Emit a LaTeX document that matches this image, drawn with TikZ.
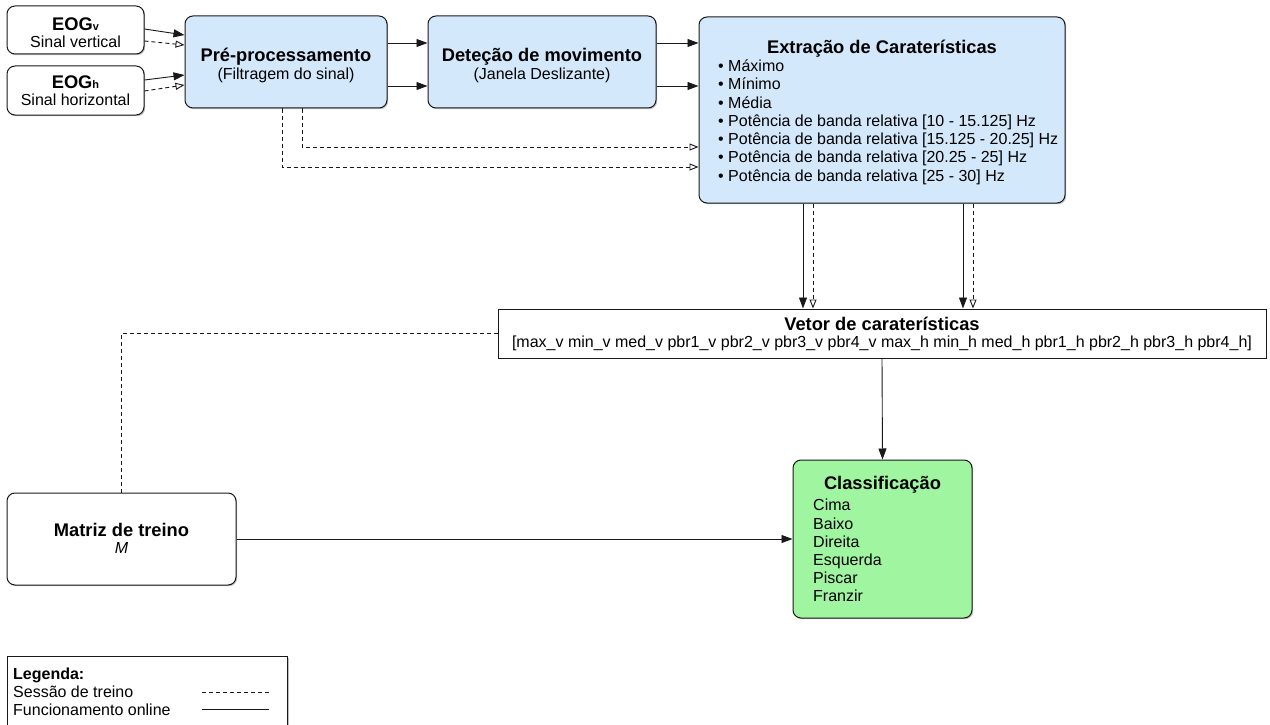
\documentclass[tikz,border=0pt]{standalone}
\usepackage{fontspec}
\setmainfont{Liberation Sans}
\usetikzlibrary{arrows.meta,shadows}

\definecolor{procblue}{RGB}{212,232,251}
\definecolor{classgreen}{RGB}{160,245,160}
\definecolor{edgegray}{RGB}{25,25,25}

\tikzset{
  procbox/.style={draw=edgegray, line width=1pt, inner sep=0pt,
    drop shadow={shadow xshift=1.2pt, shadow yshift=-1.2pt, opacity=0.25, fill=black}},
  roundbox/.style={procbox, rounded corners=8pt},
  bluebox/.style={roundbox, fill=procblue},
  greenbox/.style={roundbox, fill=classgreen},
  whitebox/.style={roundbox, fill=white},
  plainbox/.style={procbox, fill=white},
  txt/.style={inner sep=0pt, font=\fontsize{16}{18.2}\selectfont},
  ttl/.style={inner sep=0pt, font=\bfseries\fontsize{18.3}{20}\selectfont},
  flow/.style={draw=edgegray, line width=0.9pt, -{Triangle[length=11pt,width=8pt]}},
  train/.style={draw=edgegray, line width=0.9pt, dash pattern=on 4pt off 3pt,
    -{Triangle[open,length=9pt,width=7pt]}},
  trainline/.style={draw=edgegray, line width=0.9pt, dash pattern=on 4pt off 3pt},
}

\begin{document}
\begin{tikzpicture}[x=1pt,y=-1pt]
\useasboundingbox (0,0) rectangle (1270,725);
\clip (0,0) rectangle (1270,725);

% --- input signals ---
\node[whitebox, minimum width=137pt, minimum height=48pt] (eogv) at (75.5,30) {};
\node[ttl, anchor=base] (eogvT) at (75.5,30.5) {EOG{\fontsize{11}{11}\selectfont v}};
\node[txt, anchor=base] (eogvS) at (75.5,47.8) {Sinal vertical};

\node[whitebox, minimum width=137pt, minimum height=49pt] (eogh) at (75.5,90.5) {};
\node[ttl, anchor=base] (eoghT) at (75.5,88.5) {EOG{\fontsize{11}{11}\selectfont h}};
\node[txt, anchor=base] (eoghS) at (75.5,105.8) {Sinal horizontal};

% --- processing chain ---
\node[bluebox, minimum width=202pt, minimum height=92pt] (pre) at (286,62) {};
\node[ttl, anchor=base] (preT) at (286,61.5) {Pré-processamento};
\node[txt, anchor=base] (preS) at (286,79.8) {(Filtragem do sinal)};

\node[bluebox, minimum width=228pt, minimum height=92pt] (det) at (542,62) {};
\node[ttl, anchor=base] (detT) at (542,61.5) {Deteção de movimento};
\node[txt, anchor=base] (detS) at (542,79.8) {(Janela Deslizante)};

\node[bluebox, minimum width=366pt, minimum height=186pt] (ext) at (882,110) {};
\node[ttl, anchor=base] (extT) at (882,53.5) {Extração de Caraterísticas};
\foreach \feat [count=\i] in {Máximo, Mínimo, Média,
    {Potência de banda relativa [10 - 15.125] Hz},
    {Potência de banda relativa [15.125 - 20.25] Hz},
    {Potência de banda relativa [20.25 - 25] Hz},
    {Potência de banda relativa [25 - 30] Hz}}
  \node[txt, anchor=base west] (feat\i) at (718,{53.6+18.2*\i}) {• \feat};

% --- feature vector ---
\node[plainbox, minimum width=768pt, minimum height=49pt] (vetor) at (882,333.5) {};
\node[ttl, anchor=base] (vetorT) at (882,330.5) {Vetor de caraterísticas};
\node[txt, anchor=base] (vetorS) at (882,347.8)
  {[max\_v min\_v med\_v pbr1\_v pbr2\_v pbr3\_v pbr4\_v max\_h min\_h med\_h pbr1\_h pbr2\_h pbr3\_h pbr4\_h]};

% --- classifier and training matrix ---
\node[greenbox, minimum width=179pt, minimum height=158pt] (class) at (882.5,539) {};
\node[ttl, anchor=base] (classT) at (882.5,489.5) {Classificação};
\foreach \lbl [count=\i] in {Cima, Baixo, Direita, Esquerda, Piscar, Franzir}
  \node[txt, anchor=base west] (cls\i) at (813,{492.6+18.2*\i}) {\lbl};

\node[whitebox, minimum width=229pt, minimum height=92pt] (matriz) at (121.5,539) {};
\node[ttl, anchor=base] (matrizT) at (121.5,536.5) {Matriz de treino};
\node[txt, anchor=base] (matrizS) at (121.5,553.8) {\itshape M};

% --- connectors: online operation ---
\draw[flow] ([yshift=1pt]eogv.east) -- ([yshift=27pt]pre.west);
\draw[flow] ([yshift=10.5pt]eogh.east) -- ([yshift=-13pt]pre.west);
\draw[flow] ([yshift=19pt]pre.east) -- ([yshift=19pt]det.west);
\draw[flow] ([yshift=-24pt]pre.east) -- ([yshift=-24pt]det.west);
\draw[flow] ([yshift=19pt]det.east) -- ([yshift=67pt]ext.west);
\draw[flow] ([yshift=-24pt]det.east) -- ([yshift=24pt]ext.west);
\draw[flow] ([xshift=-79pt]ext.south) -- ([xshift=-79pt]vetor.north);
\draw[flow] ([xshift=81pt]ext.south) -- ([xshift=81pt]vetor.north);
\draw[flow] (vetor.south) -- (class.north);
\draw[flow] (matriz.east) -- (class.west);

% --- connectors: training session ---
\draw[train] ([yshift=-11pt]eogv.east) -- ([yshift=17pt]pre.west);
\draw[train] ([yshift=-0.5pt]eogh.east) -- ([yshift=-23pt]pre.west);
\draw[train] ([xshift=16pt]pre.south) |- ([yshift=-37pt]ext.west);
\draw[train] ([xshift=-4pt]pre.south) |- ([yshift=-57pt]ext.west);
\draw[train] ([xshift=-69pt]ext.south) -- ([xshift=-69pt]vetor.north);
\draw[train] ([xshift=91pt]ext.south) -- ([xshift=91pt]vetor.north);
\draw[trainline] (matriz.north) |- ([yshift=0.5pt]vetor.west);

% --- legend ---
\node[procbox, fill=white, minimum width=280pt, minimum height=100pt, anchor=north west] (legend) at (7,656) {};
\node[txt, anchor=base west, font=\bfseries\fontsize{16}{18.2}\selectfont] (legT) at (13,679) {Legenda:};
\node[txt, anchor=base west] (legA) at (13,697) {Sessão de treino};
\node[txt, anchor=base west] (legB) at (13,715) {Funcionamento online};
\coordinate (dashA) at (202,692);
\coordinate (dashB) at (269,692);
\coordinate (solidA) at (202,709);
\coordinate (solidB) at (269,709);
\draw[trainline] (dashA) -- (dashB);
\draw[draw=edgegray, line width=0.9pt] (solidA) -- (solidB);
\end{tikzpicture}
\end{document}
